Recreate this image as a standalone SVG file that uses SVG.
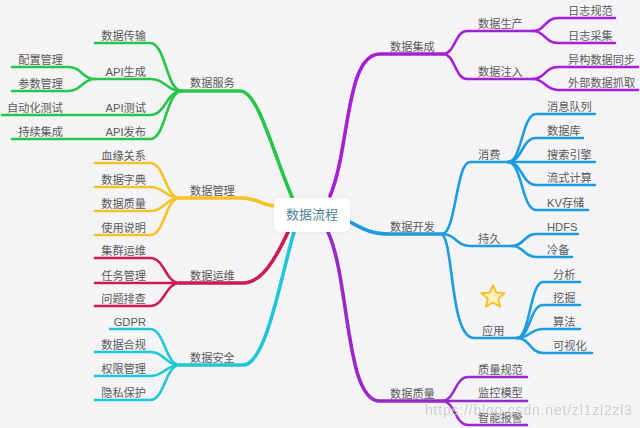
<svg xmlns="http://www.w3.org/2000/svg" width="640" height="428" viewBox="0 0 640 428">
<defs>
<style>
.c{fill:none;stroke-linecap:round;stroke-linejoin:round;stroke-width:2.6}
.m{stroke-width:3.6}
.g{stroke:#25c64a}.y{stroke:#f6c228}.r{stroke:#cc1a55}.cy{stroke:#1fc6d6}.p{stroke:#a61fd4}.b{stroke:#1b9ce0}.q{stroke:#9a28c8}
text{font-family:"Liberation Sans","Noto Sans CJK SC",sans-serif;font-size:11.2px;fill:#5a5a5a}
.e{text-anchor:end}
</style>
<filter id="sh" x="-20%" y="-30%" width="140%" height="160%"><feDropShadow dx="0" dy="0" stdDeviation="2" flood-color="#000" flood-opacity="0.08"/></filter>
</defs>
<rect width="640" height="428" fill="#f4f4f6"/>
<g id="connectors">
<g class="g">
<path class="c m" d="M182,91 H240 C258,91 272,150 292,197"/>
<path class="c" d="M95,43 H150 C166,43 166,91 182,91"/>
<path class="c" d="M95,79 H150 C166,79 166,91 182,91"/>
<path class="c" d="M2,115 H150 C166,115 166,91 182,91"/>
<path class="c" d="M12,139 H150 C166,139 166,91 182,91"/>
<path class="c" d="M12,67 H68 C82,67 82,79 95,79"/>
<path class="c" d="M12,91 H68 C82,91 82,79 95,79"/>
</g>
<g class="y">
<path class="c m" d="M180,198 H242 C258,198 262,206 276,206"/>
<path class="c" d="M95,163 H150 C165,163 165,198 180,198"/>
<path class="c" d="M95,187 H150 C165,187 165,198 180,198"/>
<path class="c" d="M95,211 H150 C165,211 165,198 180,198"/>
<path class="c" d="M95,235 H150 C165,235 165,198 180,198"/>
</g>
<g class="r">
<path class="c m" d="M180,283 H243 C262,283 276,258 288,232"/>
<path class="c" d="M95,258 H150 C165,258 165,283 180,283"/>
<path class="c" d="M95,283 H180"/>
<path class="c" d="M95,306 H150 C165,306 165,283 180,283"/>
</g>
<g class="cy">
<path class="c m" d="M180,365 H243 C266,365 280,280 294,232"/>
<path class="c" d="M110,329 H150 C165,329 165,365 180,365"/>
<path class="c" d="M95,352 H150 C165,352 165,365 180,365"/>
<path class="c" d="M95,376 H150 C165,376 165,365 180,365"/>
<path class="c" d="M95,400 H150 C165,400 165,365 180,365"/>
</g>
<g class="p">
<path class="c m" d="M330,196 C350,150 345,54 380,54 H443"/>
<path class="c" d="M443,54 C455,54 455,31 467,31 H533"/>
<path class="c" d="M443,54 C455,54 455,79 467,79 H533"/>
<path class="c" d="M533,31 C545,31 545,18 558,18 H615"/>
<path class="c" d="M533,31 C545,31 545,43 558,43 H615"/>
<path class="c" d="M533,79 C545,79 545,67 558,67 H638"/>
<path class="c" d="M533,79 C545,79 545,90 558,90 H638"/>
</g>
<g class="b">
<path class="c m" d="M350,222 C362,228 370,234 390,234 H442"/>
<path class="c" d="M442,234 C456,234 456,162 470,162 H508"/>
<path class="c" d="M508,162 C522,162 522,114 536,114 H595"/>
<path class="c" d="M508,162 C522,162 522,138 536,138 H583"/>
<path class="c" d="M508,162 H595"/>
<path class="c" d="M508,162 C522,162 522,185 536,185 H595"/>
<path class="c" d="M508,162 C522,162 522,210 536,210 H588"/>
<path class="c" d="M442,234 C456,234 456,246 470,246 H512"/>
<path class="c" d="M512,246 C524,246 524,234 536,234 H578"/>
<path class="c" d="M512,246 C524,246 524,257 536,257 H572"/>
<path class="c" d="M442,234 C454,244 450,338 474,338 H517"/>
<path class="c" d="M517,338 C530,338 530,282 543,282 H580"/>
<path class="c" d="M517,338 C530,338 530,305 543,305 H580"/>
<path class="c" d="M517,338 C530,338 530,329 543,329 H580"/>
<path class="c" d="M517,338 C530,338 530,353 543,353 H592"/>
</g>
<g class="q">
<path class="c m" d="M328,232 C350,280 345,401 380,401 H442"/>
<path class="c" d="M442,401 C455,401 455,377 468,377 H527"/>
<path class="c" d="M442,401 H527"/>
<path class="c" d="M442,401 C455,401 455,425 468,425 H527"/>
</g>
</g>
<g id="center"><rect x="274" y="198" width="76" height="34" rx="6" fill="#fff" filter="url(#sh)"/><text x="312" y="219" text-anchor="middle" style="font-size:13px;fill:#4d8294">数据流程</text></g>
<g id="n-fuwu"><text x="190" y="87">数据服务</text></g>
<g id="n-chuanshu"><text class="e" x="146" y="40">数据传输</text></g>
<g id="n-apisc"><text class="e" x="146" y="76">API生成</text></g>
<g id="n-peizhi"><text class="e" x="63" y="64">配置管理</text></g>
<g id="n-canshu"><text class="e" x="63" y="88">参数管理</text></g>
<g id="n-apics"><text class="e" x="146" y="112">API测试</text></g>
<g id="n-zdh"><text class="e" x="63" y="112">自动化测试</text></g>
<g id="n-apifb"><text class="e" x="146" y="136">API发布</text></g>
<g id="n-cxjc"><text class="e" x="63" y="136">持续集成</text></g>
<g id="n-guanli"><text x="190" y="195">数据管理</text></g>
<g id="n-xuey"><text class="e" x="146" y="160">血缘关系</text></g>
<g id="n-zidian"><text class="e" x="146" y="184">数据字典</text></g>
<g id="n-zhiliang1"><text class="e" x="146" y="208">数据质量</text></g>
<g id="n-shuoming"><text class="e" x="146" y="232">使用说明</text></g>
<g id="n-yunwei"><text x="190" y="280">数据运维</text></g>
<g id="n-jiqun"><text class="e" x="146" y="255">集群运维</text></g>
<g id="n-renwu"><text class="e" x="146" y="280">任务管理</text></g>
<g id="n-wenti"><text class="e" x="146" y="303">问题排查</text></g>
<g id="n-anquan"><text x="190" y="362">数据安全</text></g>
<g id="n-gdpr"><text class="e" x="146" y="326">GDPR</text></g>
<g id="n-hegui"><text class="e" x="146" y="349">数据合规</text></g>
<g id="n-quanxian"><text class="e" x="146" y="373">权限管理</text></g>
<g id="n-yinsi"><text class="e" x="146" y="397">隐私保护</text></g>
<g id="n-jicheng"><text x="390" y="51">数据集成</text></g>
<g id="n-shengchan"><text x="478" y="28">数据生产</text></g>
<g id="n-zhuru"><text x="478" y="76">数据注入</text></g>
<g id="n-rzgf"><text x="568" y="15">日志规范</text></g>
<g id="n-rzcj"><text x="568" y="40">日志采集</text></g>
<g id="n-yigou"><text x="568" y="64">异构数据同步</text></g>
<g id="n-waibu"><text x="568" y="87">外部数据抓取</text></g>
<g id="n-kaifa"><text x="390" y="231">数据开发</text></g>
<g id="n-xiaofei"><text x="478" y="159">消费</text></g>
<g id="n-xxdl"><text x="547" y="111">消息队列</text></g>
<g id="n-sjk"><text x="547" y="135">数据库</text></g>
<g id="n-ssyq"><text x="547" y="159">搜索引擎</text></g>
<g id="n-lsjs"><text x="547" y="182">流式计算</text></g>
<g id="n-kv"><text x="547" y="207">KV存储</text></g>
<g id="n-chijiu"><text x="478" y="243">持久</text></g>
<g id="n-hdfs"><text x="547" y="231">HDFS</text></g>
<g id="n-lengbei"><text x="547" y="254">冷备</text></g>
<g id="n-yingyong"><text x="482" y="335">应用</text><polygon points="493,285 496.2,292.6 504.4,293.3 498.2,298.7 500.1,306.7 493,302.5 485.9,306.7 487.8,298.7 481.6,293.3 489.8,292.6" fill="#fff1bd" stroke="#f3c22c" stroke-width="2" stroke-linejoin="round"/></g>
<g id="n-fenxi"><text x="553" y="279">分析</text></g>
<g id="n-wajue"><text x="553" y="302">挖掘</text></g>
<g id="n-suanfa"><text x="553" y="326">算法</text></g>
<g id="n-kesh"><text x="553" y="350">可视化</text></g>
<g id="n-zhiliang"><text x="390" y="398">数据质量</text></g>
<g id="n-zlgf"><text x="478" y="374">质量规范</text></g>
<g id="n-jkmx"><text x="478" y="397">监控模型</text></g>
<g id="n-znbj"><text x="478" y="422">智能报警</text></g>
<text x="425" y="415" textLength="207" style="font-size:14px;fill:#c9c9c9;opacity:0.85">https://blog.csdn.net/zl1zl2zl3</text>
</svg>
